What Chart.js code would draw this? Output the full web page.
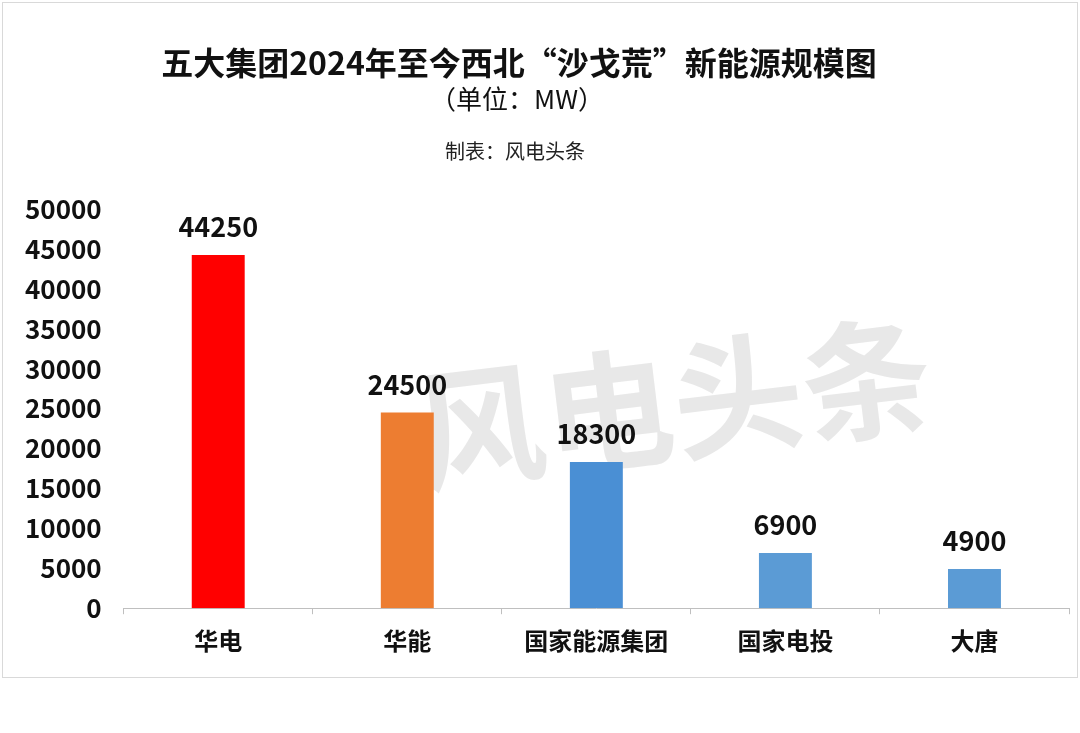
<!DOCTYPE html>
<html><head><meta charset="utf-8">
<script src="https://cdn.jsdelivr.net/npm/chart.js@4"></script>
<style>
html,body{margin:0;padding:0;background:#fff;}
#wrap{position:absolute;left:2px;top:2px;width:1074px;height:674px;border:1px solid #d9d9d9;}
canvas{display:block;}
</style></head><body>
<div id="wrap"><canvas id="c" width="1074" height="674"></canvas></div>
<script>
const categories = ["华电","华能","国家能源集团","国家电投","大唐"];
const values = [44250, 24500, 18300, 6900, 4900];
const barColors = ["#FF0000","#ED7D31","#4A8FD4","#5B9BD5","#5B9BD5"];
const titleText = "五大集团2024年至今西北“沙戈荒”新能源规模图";
const subText = "（单位：MW）";
const noteText = "制表：风电头条";
const F = "'Noto Sans CJK SC','Noto Sans',sans-serif";

const decor = {
  id:'decor',
  beforeDatasetsDraw(chart){
    const ctx = chart.ctx;
    ctx.save();
    ctx.translate(670, 400);
    ctx.rotate(-0.12);
    ctx.font = "bold 130px " + F;
    ctx.fillStyle = "rgba(180,180,180,0.3)";
    ctx.textAlign = "center"; ctx.textBaseline = "middle";
    ctx.fillText("风电头条", 0, 0);
    ctx.restore();
  },
  afterDraw(chart){
    const ctx = chart.ctx;
    ctx.save();
    ctx.textAlign = "center"; ctx.textBaseline = "middle"; ctx.fillStyle = "#111";
    ctx.font = "bold 32px " + F; ctx.fillText(titleText, 516, 60);
    ctx.font = "26px " + F; ctx.fillText(subText, 514, 96);
    ctx.font = "20px " + F; ctx.fillStyle = "#222"; ctx.fillText(noteText, 512, 148);
    const meta = chart.getDatasetMeta(0);
    ctx.font = "bold 27px " + F; ctx.fillStyle = "#111";
    meta.data.forEach((b,i)=>{ ctx.fillText(String(values[i]), b.x, b.y - 28); });
    ctx.restore();
  }
};

new Chart(document.getElementById('c'), {
  type:'bar',
  data:{labels:categories, datasets:[{data:values, backgroundColor:barColors, barPercentage:0.56, categoryPercentage:0.5}]},
  options:{
    responsive:false, animation:false,
    layout:{padding:{top:206,left:8,right:8,bottom:10}},
    plugins:{legend:{display:false},tooltip:{enabled:false}},
    scales:{
      y:{min:0,max:50000,ticks:{stepSize:5000,color:"#111",font:{size:26,weight:'bold',family:F},padding:14,callback:v=>String(v)},
         grid:{display:false},border:{display:false}},
      x:{ticks:{color:"#111",font:{size:24,weight:'bold',family:F},padding:12},
         grid:{display:true,drawOnChartArea:false,tickLength:6,color:"#bfbfbf",offset:true},border:{color:"#bfbfbf"}}
    }
  },
  plugins:[decor]
});
</script></body></html>
